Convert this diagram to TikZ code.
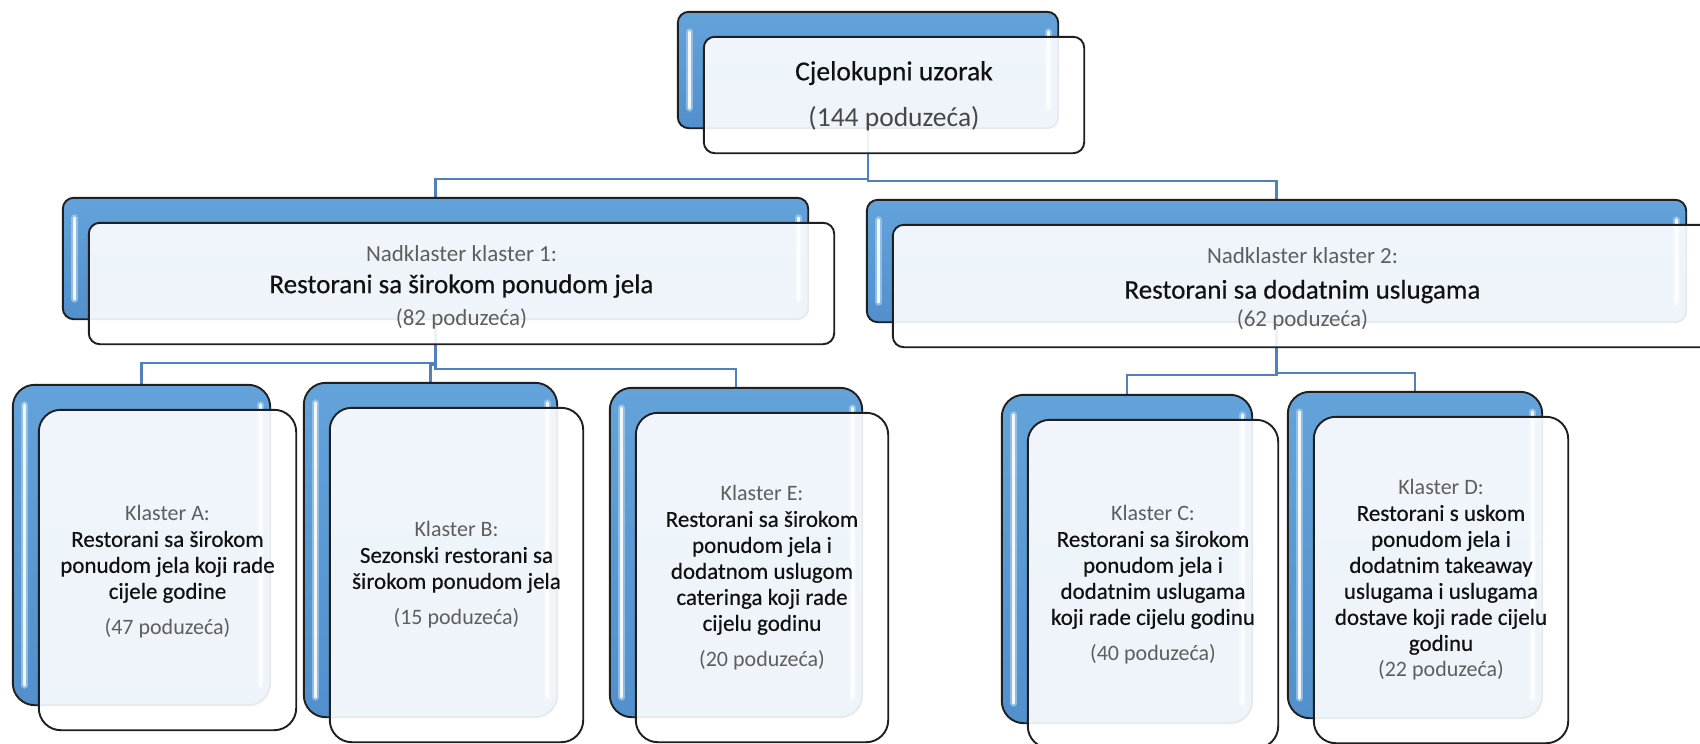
\documentclass[tikz,border=0pt]{standalone}
\usepackage{fontspec}
\setmainfont{Carlito}
\newfontfamily\heavyfont[FakeBold=0.45]{Carlito}
\usetikzlibrary{calc}
\definecolor{boxblue}{HTML}{5B9BD5}
\definecolor{boxbluetop}{HTML}{64A2DA}
\definecolor{boxbluebot}{HTML}{5190CC}
\definecolor{lineblue}{HTML}{4F81BD}
\definecolor{grtxt}{HTML}{5E5E5E}
\definecolor{blktxt}{HTML}{111111}
\definecolor{glossblue}{HTML}{A9CDEE}
\newcommand{\grl}[1]{{\normalfont\fontsize{22}{26}\selectfont\color{grtxt}#1}}
\newcommand{\grm}[1]{{\normalfont\fontsize{23}{32}\selectfont\color{grtxt}#1}}
\tikzset{
  backbox/.style={draw=black!88, line width=1.9pt, top color=boxbluetop, bottom color=boxbluebot, inner sep=0pt},
  frontbox/.style={draw=black!88, line width=1.9pt, fill=white, fill opacity=0.9, inner sep=0pt},
  conn/.style={draw=lineblue, line width=2.4pt},
  glosshalo/.style={draw=glossblue, line width=7pt, line cap=round, opacity=0.7},
  glossline/.style={draw=white, line width=3pt, line cap=round, opacity=0.9},
  lvthree/.style={align=center, text=blktxt, font=\heavyfont\fontsize{23}{26}\selectfont, inner sep=0pt},
  lvtwo/.style={align=center, text=blktxt, font=\heavyfont\fontsize{27}{32}\selectfont, inner sep=0pt},
}
\begin{document}
\begin{tikzpicture}[x=1pt,y=-1pt]
\useasboundingbox (0,0) rectangle (1700,744);
% back boxes (positions only, drawn later)
\path
  (868,70)     node[minimum width=380pt, minimum height=116pt] (topB) {}
  (435.5,258.5) node[minimum width=745pt, minimum height=121pt] (l1B) {}
  (1276.5,261) node[minimum width=819pt, minimum height=122pt] (l2B) {}
  (141.5,545)  node[minimum width=257pt, minimum height=320pt] (aB) {}
  (430.5,550)  node[minimum width=253pt, minimum height=334pt] (bB) {}
  (736,552.5)  node[minimum width=252pt, minimum height=329pt] (eB) {}
  (1127,559)   node[minimum width=250pt, minimum height=328pt] (cB) {}
  (1415,555)   node[minimum width=254pt, minimum height=326pt] (dB) {};
% connectors
\draw[conn] (topB.south) -- ++(0,51) -| (l1B.north);
\draw[conn] (topB.south) -- ++(0,53) -| (l2B.north);
\draw[conn] (l1B.south) -- ++(0,44) -| (aB.north);
\draw[conn] (l1B.south) -- ++(0,46) -| (bB.north);
\draw[conn] (l1B.south) -- ++(0,50) -| (eB.north);
\draw[conn] (l2B.south) -- ++(0,53) -| (cB.north);
\draw[conn] (l2B.south) -- ++(0,51) -| (dB.north);
% back boxes drawn
\foreach \n/\r in {topB/11,l1B/11,l2B/11,aB/22,bB/22,eB/22,cB/22,dB/22}{
  \draw[backbox, rounded corners=\r pt] (\n.north west) rectangle (\n.south east);
  \draw[glosshalo] ($(\n.north west)+(12,20)$) -- ($(\n.south west)+(12,-20)$);
  \draw[glossline] ($(\n.north west)+(12,20)$) -- ($(\n.south west)+(12,-20)$);
  \draw[glosshalo] ($(\n.north east)+(-10,20)$) -- ($(\n.south east)+(-10,-20)$);
  \draw[glossline] ($(\n.north east)+(-10,20)$) -- ($(\n.south east)+(-10,-20)$);
}
% front boxes
\path
  (894,95)      node[minimum width=380pt, minimum height=116pt] (topF) {}
  (461.5,283.5) node[minimum width=745pt, minimum height=121pt] (l1F) {}
  (1302.5,286)  node[minimum width=819pt, minimum height=122pt] (l2F) {}
  (167.5,570)   node[minimum width=257pt, minimum height=320pt] (aF) {}
  (456.5,575)   node[minimum width=253pt, minimum height=334pt] (bF) {}
  (762,577.5)   node[minimum width=252pt, minimum height=329pt] (eF) {}
  (1153,584)    node[minimum width=250pt, minimum height=328pt] (cF) {}
  (1441,580)    node[minimum width=254pt, minimum height=326pt] (dF) {};
\foreach \n/\r in {topF/11,l1F/11,l2F/11,aF/22,bF/22,eF/22,cF/22,dF/22}{
  \draw[frontbox, rounded corners=\r pt] (\n.north west) rectangle (\n.south east);
}
% texts
\node[lvtwo, font=\heavyfont\fontsize{27.5}{33}\selectfont] (topT) at (894,96)
  {Cjelokupni uzorak\\[13pt]{\normalfont\fontsize{27.5}{33}\selectfont\color{black!72}(144 poduzeća)}};
\node[lvtwo] (l1T) at (461.5,287)
  {\grm{Nadklaster klaster 1:}\\Restorani sa širokom ponudom jela\\\grm{(82 poduzeća)}};
\node[lvtwo] (l2T) at (1302.5,289)
  {\grm{Nadklaster klaster 2:}\\[3pt]Restorani sa dodatnim uslugama\\[-4pt]\grm{(62 poduzeća)}};
\node[lvthree] (aT) at (167.5,572)
  {\grl{Klaster A:}\\Restorani sa širokom\\ponudom jela koji rade\\cijele godine\\[10pt]\grl{(47 poduzeća)}};
\node[lvthree] (bT) at (456.5,575)
  {\grl{Klaster B:}\\Sezonski restorani sa\\širokom ponudom jela\\[10pt]\grl{(15 poduzeća)}};
\node[lvthree] (eT) at (762,578)
  {\grl{Klaster E:}\\Restorani sa širokom\\ponudom jela i\\dodatnom uslugom\\cateringa koji rade\\cijelu godinu\\[10pt]\grl{(20 poduzeća)}};
\node[lvthree] (cT) at (1153,585)
  {\grl{Klaster C:}\\Restorani sa širokom\\ponudom jela i\\dodatnim uslugama\\koji rade cijelu godinu\\[10pt]\grl{(40 poduzeća)}};
\node[lvthree] (dT) at (1441,580)
  {\grl{Klaster D:}\\Restorani s uskom\\ponudom jela i\\dodatnim takeaway\\uslugama i uslugama\\dostave koji rade cijelu\\godinu\\\grl{(22 poduzeća)}};
\end{tikzpicture}
\end{document}
